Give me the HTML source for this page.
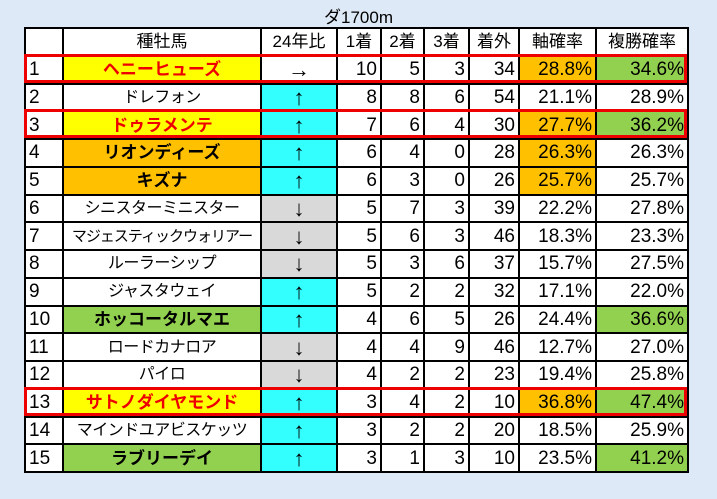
<!DOCTYPE html><html><head><meta charset="utf-8"><style>
body{margin:0;width:717px;height:499px;background:#dde9f6;font-family:"Liberation Sans","Noto Sans CJK JP",sans-serif;position:relative;overflow:hidden}
.t{position:absolute;left:0;top:3px;width:717px;text-align:center;font-size:17px;color:#000}
table{position:absolute;left:24px;top:27px;width:663px;border-collapse:collapse;table-layout:fixed;background:#fff}
tr{height:27.75px}
td{border:2px solid #000;padding:0 3px;font-size:19px;line-height:19px;white-space:nowrap;overflow:hidden;box-sizing:border-box}
td.c{text-align:center}td.r{text-align:right}
td.a{font-size:22px;text-align:center}
.k{font-size:16px !important;letter-spacing:-0.5px}
.k2{font-size:15px !important;letter-spacing:-1px}
.h{font-size:17px !important}
.y{background:#ffff00}.o{background:#ffc000}.g{background:#92d050}.cy{background:#33ffff}.gr{background:#d9d9d9}
.red{color:#e00;font-weight:bold}.b{font-weight:bold}
.box{position:absolute;left:24px;width:657px;height:23px;border:3px solid #e00}
</style></head><body>
<div class="t">ダ1700m</div>
<table>
<colgroup><col style="width:38px"><col style="width:198px"><col style="width:76px"><col style="width:44px"><col style="width:43px"><col style="width:45px"><col style="width:50px"><col style="width:77px"><col style="width:92px"></colgroup>
<tr><td></td><td class="c h">種牡馬</td><td class="c h">24年比</td><td class="c h">1着</td><td class="c h">2着</td><td class="c h">3着</td><td class="c h">着外</td><td class="c h">軸確率</td><td class="c h">複勝確率</td></tr>
<tr><td>1</td><td class="c y red h">ヘニーヒューズ</td><td class="a">→</td><td class="r">10</td><td class="r">5</td><td class="r">3</td><td class="r">34</td><td class="r o">28.8%</td><td class="r g">34.6%</td></tr>
<tr><td>2</td><td class="c k">ドレフォン</td><td class="a cy">↑</td><td class="r">8</td><td class="r">8</td><td class="r">6</td><td class="r">54</td><td class="r">21.1%</td><td class="r">28.9%</td></tr>
<tr><td>3</td><td class="c y red h">ドゥラメンテ</td><td class="a cy">↑</td><td class="r">7</td><td class="r">6</td><td class="r">4</td><td class="r">30</td><td class="r o">27.7%</td><td class="r g">36.2%</td></tr>
<tr><td>4</td><td class="c o b h">リオンディーズ</td><td class="a cy">↑</td><td class="r">6</td><td class="r">4</td><td class="r">0</td><td class="r">28</td><td class="r o">26.3%</td><td class="r">26.3%</td></tr>
<tr><td>5</td><td class="c o b h">キズナ</td><td class="a cy">↑</td><td class="r">6</td><td class="r">3</td><td class="r">0</td><td class="r">26</td><td class="r o">25.7%</td><td class="r">25.7%</td></tr>
<tr><td>6</td><td class="c k">シニスターミニスター</td><td class="a gr">↓</td><td class="r">5</td><td class="r">7</td><td class="r">3</td><td class="r">39</td><td class="r">22.2%</td><td class="r">27.8%</td></tr>
<tr><td>7</td><td class="c k2">マジェスティックウォリアー</td><td class="a gr">↓</td><td class="r">5</td><td class="r">6</td><td class="r">3</td><td class="r">46</td><td class="r">18.3%</td><td class="r">23.3%</td></tr>
<tr><td>8</td><td class="c k">ルーラーシップ</td><td class="a gr">↓</td><td class="r">5</td><td class="r">3</td><td class="r">6</td><td class="r">37</td><td class="r">15.7%</td><td class="r">27.5%</td></tr>
<tr><td>9</td><td class="c k">ジャスタウェイ</td><td class="a cy">↑</td><td class="r">5</td><td class="r">2</td><td class="r">2</td><td class="r">32</td><td class="r">17.1%</td><td class="r">22.0%</td></tr>
<tr><td>10</td><td class="c g b h">ホッコータルマエ</td><td class="a cy">↑</td><td class="r">4</td><td class="r">6</td><td class="r">5</td><td class="r">26</td><td class="r">24.4%</td><td class="r g">36.6%</td></tr>
<tr><td>11</td><td class="c k">ロードカナロア</td><td class="a gr">↓</td><td class="r">4</td><td class="r">4</td><td class="r">9</td><td class="r">46</td><td class="r">12.7%</td><td class="r">27.0%</td></tr>
<tr><td>12</td><td class="c k">パイロ</td><td class="a gr">↓</td><td class="r">4</td><td class="r">2</td><td class="r">2</td><td class="r">23</td><td class="r">19.4%</td><td class="r">25.8%</td></tr>
<tr><td>13</td><td class="c y red h">サトノダイヤモンド</td><td class="a cy">↑</td><td class="r">3</td><td class="r">4</td><td class="r">2</td><td class="r">10</td><td class="r o">36.8%</td><td class="r g">47.4%</td></tr>
<tr><td>14</td><td class="c k">マインドユアビスケッツ</td><td class="a cy">↑</td><td class="r">3</td><td class="r">2</td><td class="r">2</td><td class="r">20</td><td class="r">18.5%</td><td class="r">25.9%</td></tr>
<tr><td>15</td><td class="c g b h">ラブリーデイ</td><td class="a cy">↑</td><td class="r">3</td><td class="r">1</td><td class="r">3</td><td class="r">10</td><td class="r">23.5%</td><td class="r g">41.2%</td></tr>
</table>
<div class="box" style="top:54px"></div>
<div class="box" style="top:109px"></div>
<div class="box" style="top:387px"></div>
</body></html>
